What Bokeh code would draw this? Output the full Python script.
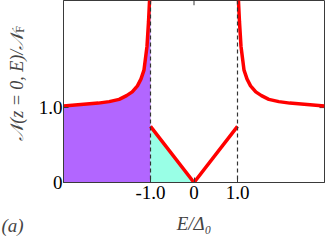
from math import pi
from bokeh.plotting import figure
from bokeh.models import Range1d, LinearAxis, FixedTicker, Span, Label
from bokeh.embed import file_html
from bokeh.resources import INLINE

# ---- data ----
e_pos = [1.0, 1.02, 1.045, 1.08, 1.15, 1.22, 1.3, 1.42, 1.55, 1.72, 1.95, 2.2, 2.6, 3.0]
dos_pos = [3.2, 2.45, 2.15, 1.82, 1.5, 1.38, 1.29, 1.21, 1.16, 1.11, 1.08, 1.06, 1.04, 1.02]
e_neg = [-e for e in reversed(e_pos)]
dos_neg = list(reversed(dos_pos))
gap_e = [-1.0, 0.0, 1.0]
gap_dos = [0.75, 0.0, 0.75]
x_ticks = [-1, 0, 1]
x_tick_labels = ["-1.0", "0", "1.0"]
y_ticks = [0, 1]
y_tick_labels = ["0", "1.0"]

X_MIN, X_MAX = -3.0, 3.0
Y_MIN, Y_MAX = 0.0, 2.43

FONT = "Liberation Serif"
FRAME = "#3a3a3a"

p = figure(width=327, height=243, output_backend="svg", toolbar_location=None,
           x_range=Range1d(X_MIN, X_MAX), y_range=Range1d(Y_MIN, Y_MAX),
           x_axis_location=None, y_axis_location=None,
           min_border_left=63, min_border_right=3, min_border_top=0, min_border_bottom=51)
p.xgrid.visible = False
p.ygrid.visible = False
p.outline_line_color = FRAME
p.outline_line_width = 1
p.background_fill_color = "white"
p.border_fill_color = "white"


def make_axis(loc, ticks, labels):
    ax = LinearAxis(ticker=FixedTicker(ticks=ticks))
    ax.major_label_overrides = {t: l for t, l in zip(ticks, labels)}
    ax.major_tick_in = 5
    ax.major_tick_out = 0
    ax.minor_tick_in = 0
    ax.minor_tick_out = 0
    ax.axis_line_color = FRAME
    ax.major_tick_line_color = FRAME
    ax.major_label_text_font = FONT
    ax.major_label_text_font_size = "19px"
    ax.major_label_text_color = "black"
    p.add_layout(ax, loc)
    return ax


xb = make_axis("below", x_ticks, x_tick_labels)
xb.major_label_standoff = 3
yl = make_axis("left", y_ticks, y_tick_labels)
yl.major_label_standoff = 1

# fills
p.varea(x=e_neg, y1=0, y2=dos_neg, fill_color="#b266ff")
p.varea(x=gap_e[:2], y1=0, y2=gap_dos[:2], fill_color="#99ffe6")

# dashed gap edges
for xv in (-1.0, 1.0):
    p.add_layout(Span(location=xv, dimension="height", line_color="#333333",
                      line_dash="4 3", line_width=1.2))

# mirrored inward ticks on the top and right edges
tick_dy = 5 / 79
tick_dx = 5 / 43.5
p.segment(x0=x_ticks, y0=[Y_MAX] * len(x_ticks), x1=x_ticks,
          y1=[Y_MAX - tick_dy] * len(x_ticks), line_color=FRAME, line_width=1)
p.segment(x0=[X_MAX] * len(y_ticks), y0=y_ticks, x1=[X_MAX - tick_dx] * len(y_ticks),
          y1=y_ticks, line_color=FRAME, line_width=1)

# DOS curves
p.line(e_neg, dos_neg, line_color="#ff0000", line_width=3.5)
p.line(e_pos, dos_pos, line_color="#ff0000", line_width=3.5)
p.line(gap_e, gap_dos, line_color="#ff0000", line_width=3.5)

# labels (placed in the side panels so they are not clipped to the frame)
p.add_layout(Label(x=-4.08, y=2.0, text="𝒩(z = 0, E)/𝒩", angle=pi / 2,
                   text_align="right", text_baseline="alphabetic",
                   text_font=FONT, text_font_size="18px", text_font_style="italic"), "left")
p.add_layout(Label(x=-4.0, y=2.0, text="F", angle=pi / 2,
                   text_align="left", text_baseline="alphabetic",
                   text_font=FONT, text_font_size="12px"), "left")
p.add_layout(Label(x=0.0, y=-0.544, text="E/Δ₀",
                   text_align="center", text_baseline="alphabetic",
                   text_font=FONT, text_font_size="19px", text_font_style="italic"), "below")
p.add_layout(Label(x=-4.425, y=-0.57, text="(a)",
                   text_align="left", text_baseline="alphabetic",
                   text_font=FONT, text_font_size="19px", text_font_style="italic"), "below")

open("out.html", "w").write(file_html(p, INLINE))
